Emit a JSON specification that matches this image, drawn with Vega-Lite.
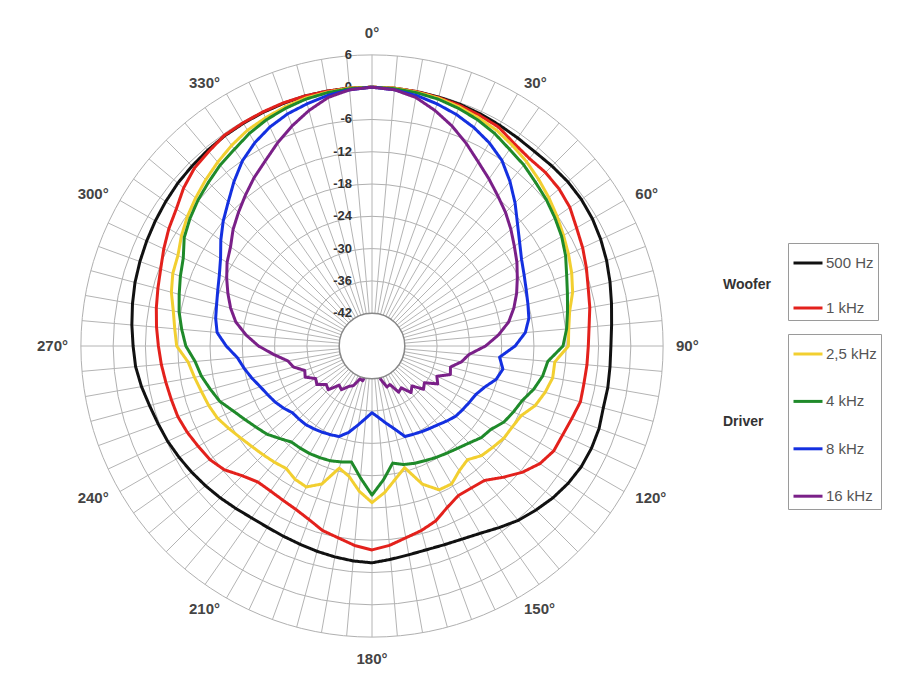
{
"$schema":"https://vega.github.io/schema/vega-lite/v6.json",
"width":650,"height":650,
"autosize":{"type":"none"},
"padding":{"left":47,"top":21,"right":217,"bottom":18},
"background":"white",
"config":{"view":{"stroke":null}},
"datasets":{
"rings":[{"d":-36},{"d":-30},{"d":-24},{"d":-18},{"d":-12},{"d":-6},{"d":0},{"d":6}],
"hole":[{"d":-42}],
"spokes":[{"a":0},{"a":5},{"a":10},{"a":15},{"a":20},{"a":25},{"a":30},{"a":35},{"a":40},{"a":45},{"a":50},{"a":55},{"a":60},{"a":65},{"a":70},{"a":75},{"a":80},{"a":85},{"a":90},{"a":95},{"a":100},{"a":105},{"a":110},{"a":115},{"a":120},{"a":125},{"a":130},{"a":135},{"a":140},{"a":145},{"a":150},{"a":155},{"a":160},{"a":165},{"a":170},{"a":175},{"a":180},{"a":185},{"a":190},{"a":195},{"a":200},{"a":205},{"a":210},{"a":215},{"a":220},{"a":225},{"a":230},{"a":235},{"a":240},{"a":245},{"a":250},{"a":255},{"a":260},{"a":265},{"a":270},{"a":275},{"a":280},{"a":285},{"a":290},{"a":295},{"a":300},{"a":305},{"a":310},{"a":315},{"a":320},{"a":325},{"a":330},{"a":335},{"a":340},{"a":345},{"a":350},{"a":355}],
"dbl":[{"d":6,"t":"6"},{"d":0,"t":"0"},{"d":-6,"t":"-6"},{"d":-12,"t":"-12"},{"d":-18,"t":"-18"},{"d":-24,"t":"-24"},{"d":-30,"t":"-30"},{"d":-36,"t":"-36"},{"d":-42,"t":"-42"}],
"ang":[{"a":0,"t":"0°"},{"a":30,"t":"30°"},{"a":60,"t":"60°"},{"a":90,"t":"90°"},{"a":120,"t":"120°"},{"a":150,"t":"150°"},{"a":180,"t":"180°"},{"a":210,"t":"210°"},{"a":240,"t":"240°"},{"a":270,"t":"270°"},{"a":300,"t":"300°"},{"a":330,"t":"330°"}],
"curves":[
{"f":"500 Hz","g":"Woofer","a":0,"d":0},{"f":"500 Hz","g":"Woofer","a":5,"d":0},{"f":"500 Hz","g":"Woofer","a":10,"d":-0.1},{"f":"500 Hz","g":"Woofer","a":15,"d":-0.2},{"f":"500 Hz","g":"Woofer","a":20,"d":-0.3},{"f":"500 Hz","g":"Woofer","a":25,"d":-0.5},{"f":"500 Hz","g":"Woofer","a":30,"d":-0.7},{"f":"500 Hz","g":"Woofer","a":35,"d":-0.9},{"f":"500 Hz","g":"Woofer","a":40,"d":-1.0},{"f":"500 Hz","g":"Woofer","a":45,"d":-0.8},{"f":"500 Hz","g":"Woofer","a":50,"d":-0.6},{"f":"500 Hz","g":"Woofer","a":55,"d":-0.6},{"f":"500 Hz","g":"Woofer","a":60,"d":-0.8},{"f":"500 Hz","g":"Woofer","a":65,"d":-1.2},{"f":"500 Hz","g":"Woofer","a":70,"d":-1.7},{"f":"500 Hz","g":"Woofer","a":75,"d":-2.3},{"f":"500 Hz","g":"Woofer","a":80,"d":-2.9},{"f":"500 Hz","g":"Woofer","a":85,"d":-3.4},{"f":"500 Hz","g":"Woofer","a":90,"d":-3.7},{"f":"500 Hz","g":"Woofer","a":95,"d":-3.7},{"f":"500 Hz","g":"Woofer","a":100,"d":-3.6},{"f":"500 Hz","g":"Woofer","a":105,"d":-3.6},{"f":"500 Hz","g":"Woofer","a":110,"d":-3.2},{"f":"500 Hz","g":"Woofer","a":115,"d":-3.1},{"f":"500 Hz","g":"Woofer","a":120,"d":-3.2},{"f":"500 Hz","g":"Woofer","a":125,"d":-3.6},{"f":"500 Hz","g":"Woofer","a":130,"d":-4.2},{"f":"500 Hz","g":"Woofer","a":135,"d":-5.0},{"f":"500 Hz","g":"Woofer","a":140,"d":-5.8},{"f":"500 Hz","g":"Woofer","a":145,"d":-6.9},{"f":"500 Hz","g":"Woofer","a":150,"d":-7.9},{"f":"500 Hz","g":"Woofer","a":155,"d":-8.5},{"f":"500 Hz","g":"Woofer","a":160,"d":-8.8},{"f":"500 Hz","g":"Woofer","a":165,"d":-8.9},{"f":"500 Hz","g":"Woofer","a":170,"d":-8.7},{"f":"500 Hz","g":"Woofer","a":175,"d":-8.3},{"f":"500 Hz","g":"Woofer","a":180,"d":-7.8},{"f":"500 Hz","g":"Woofer","a":185,"d":-8.0},{"f":"500 Hz","g":"Woofer","a":190,"d":-8.3},{"f":"500 Hz","g":"Woofer","a":195,"d":-8.6},{"f":"500 Hz","g":"Woofer","a":200,"d":-8.9},{"f":"500 Hz","g":"Woofer","a":205,"d":-9.1},{"f":"500 Hz","g":"Woofer","a":210,"d":-9.2},{"f":"500 Hz","g":"Woofer","a":215,"d":-9.1},{"f":"500 Hz","g":"Woofer","a":220,"d":-8.7},{"f":"500 Hz","g":"Woofer","a":225,"d":-8.2},{"f":"500 Hz","g":"Woofer","a":230,"d":-7.7},{"f":"500 Hz","g":"Woofer","a":235,"d":-7.2},{"f":"500 Hz","g":"Woofer","a":240,"d":-6.7},{"f":"500 Hz","g":"Woofer","a":245,"d":-6.2},{"f":"500 Hz","g":"Woofer","a":250,"d":-5.8},{"f":"500 Hz","g":"Woofer","a":255,"d":-5.3},{"f":"500 Hz","g":"Woofer","a":260,"d":-4.6},{"f":"500 Hz","g":"Woofer","a":265,"d":-4.0},{"f":"500 Hz","g":"Woofer","a":270,"d":-3.7},{"f":"500 Hz","g":"Woofer","a":275,"d":-3.3},{"f":"500 Hz","g":"Woofer","a":280,"d":-2.9},{"f":"500 Hz","g":"Woofer","a":285,"d":-2.5},{"f":"500 Hz","g":"Woofer","a":290,"d":-2.2},{"f":"500 Hz","g":"Woofer","a":295,"d":-1.9},{"f":"500 Hz","g":"Woofer","a":300,"d":-1.6},{"f":"500 Hz","g":"Woofer","a":305,"d":-1.3},{"f":"500 Hz","g":"Woofer","a":310,"d":-1.0},{"f":"500 Hz","g":"Woofer","a":315,"d":-0.8},{"f":"500 Hz","g":"Woofer","a":320,"d":-0.6},{"f":"500 Hz","g":"Woofer","a":325,"d":-0.4},{"f":"500 Hz","g":"Woofer","a":330,"d":-0.3},{"f":"500 Hz","g":"Woofer","a":335,"d":-0.2},{"f":"500 Hz","g":"Woofer","a":340,"d":-0.1},{"f":"500 Hz","g":"Woofer","a":345,"d":0},{"f":"500 Hz","g":"Woofer","a":350,"d":0},{"f":"500 Hz","g":"Woofer","a":355,"d":0},{"f":"500 Hz","g":"Woofer","a":360,"d":0},
{"f":"1 kHz","g":"Woofer","a":0,"d":0},{"f":"1 kHz","g":"Woofer","a":5,"d":0},{"f":"1 kHz","g":"Woofer","a":10,"d":-0.1},{"f":"1 kHz","g":"Woofer","a":15,"d":-0.3},{"f":"1 kHz","g":"Woofer","a":20,"d":-0.5},{"f":"1 kHz","g":"Woofer","a":25,"d":-0.8},{"f":"1 kHz","g":"Woofer","a":30,"d":-1.1},{"f":"1 kHz","g":"Woofer","a":35,"d":-2.1},{"f":"1 kHz","g":"Woofer","a":40,"d":-2.6},{"f":"1 kHz","g":"Woofer","a":45,"d":-2.5},{"f":"1 kHz","g":"Woofer","a":50,"d":-2.7},{"f":"1 kHz","g":"Woofer","a":55,"d":-3.2},{"f":"1 kHz","g":"Woofer","a":60,"d":-4.2},{"f":"1 kHz","g":"Woofer","a":65,"d":-4.9},{"f":"1 kHz","g":"Woofer","a":70,"d":-5.7},{"f":"1 kHz","g":"Woofer","a":75,"d":-6.5},{"f":"1 kHz","g":"Woofer","a":80,"d":-7.0},{"f":"1 kHz","g":"Woofer","a":85,"d":-7.6},{"f":"1 kHz","g":"Woofer","a":90,"d":-7.9},{"f":"1 kHz","g":"Woofer","a":95,"d":-8.0},{"f":"1 kHz","g":"Woofer","a":100,"d":-8.1},{"f":"1 kHz","g":"Woofer","a":105,"d":-8.0},{"f":"1 kHz","g":"Woofer","a":110,"d":-8.6},{"f":"1 kHz","g":"Woofer","a":115,"d":-9.0},{"f":"1 kHz","g":"Woofer","a":120,"d":-9.1},{"f":"1 kHz","g":"Woofer","a":125,"d":-10.0},{"f":"1 kHz","g":"Woofer","a":130,"d":-11.6},{"f":"1 kHz","g":"Woofer","a":135,"d":-13.6},{"f":"1 kHz","g":"Woofer","a":140,"d":-15.5},{"f":"1 kHz","g":"Woofer","a":145,"d":-15.9},{"f":"1 kHz","g":"Woofer","a":150,"d":-16.0},{"f":"1 kHz","g":"Woofer","a":155,"d":-15.0},{"f":"1 kHz","g":"Woofer","a":160,"d":-13.5},{"f":"1 kHz","g":"Woofer","a":165,"d":-12.6},{"f":"1 kHz","g":"Woofer","a":170,"d":-11.9},{"f":"1 kHz","g":"Woofer","a":175,"d":-10.9},{"f":"1 kHz","g":"Woofer","a":180,"d":-10.2},{"f":"1 kHz","g":"Woofer","a":185,"d":-10.9},{"f":"1 kHz","g":"Woofer","a":190,"d":-11.9},{"f":"1 kHz","g":"Woofer","a":195,"d":-12.6},{"f":"1 kHz","g":"Woofer","a":200,"d":-13.8},{"f":"1 kHz","g":"Woofer","a":205,"d":-14.6},{"f":"1 kHz","g":"Woofer","a":210,"d":-15.0},{"f":"1 kHz","g":"Woofer","a":215,"d":-15.2},{"f":"1 kHz","g":"Woofer","a":220,"d":-15.1},{"f":"1 kHz","g":"Woofer","a":225,"d":-14.0},{"f":"1 kHz","g":"Woofer","a":230,"d":-12.3},{"f":"1 kHz","g":"Woofer","a":235,"d":-11.3},{"f":"1 kHz","g":"Woofer","a":240,"d":-10.8},{"f":"1 kHz","g":"Woofer","a":245,"d":-10.2},{"f":"1 kHz","g":"Woofer","a":250,"d":-9.7},{"f":"1 kHz","g":"Woofer","a":255,"d":-9.5},{"f":"1 kHz","g":"Woofer","a":260,"d":-9.2},{"f":"1 kHz","g":"Woofer","a":265,"d":-8.8},{"f":"1 kHz","g":"Woofer","a":270,"d":-8.4},{"f":"1 kHz","g":"Woofer","a":275,"d":-7.9},{"f":"1 kHz","g":"Woofer","a":280,"d":-7.4},{"f":"1 kHz","g":"Woofer","a":285,"d":-6.9},{"f":"1 kHz","g":"Woofer","a":290,"d":-6.3},{"f":"1 kHz","g":"Woofer","a":295,"d":-5.4},{"f":"1 kHz","g":"Woofer","a":300,"d":-4.5},{"f":"1 kHz","g":"Woofer","a":305,"d":-3.7},{"f":"1 kHz","g":"Woofer","a":310,"d":-2.4},{"f":"1 kHz","g":"Woofer","a":315,"d":-1.4},{"f":"1 kHz","g":"Woofer","a":320,"d":-0.9},{"f":"1 kHz","g":"Woofer","a":325,"d":-0.3},{"f":"1 kHz","g":"Woofer","a":330,"d":-0.2},{"f":"1 kHz","g":"Woofer","a":335,"d":-0.1},{"f":"1 kHz","g":"Woofer","a":340,"d":0},{"f":"1 kHz","g":"Woofer","a":345,"d":0},{"f":"1 kHz","g":"Woofer","a":350,"d":0},{"f":"1 kHz","g":"Woofer","a":355,"d":0},{"f":"1 kHz","g":"Woofer","a":360,"d":0},
{"f":"2,5 kHz","g":"Driver","a":0,"d":0},{"f":"2,5 kHz","g":"Driver","a":5,"d":0},{"f":"2,5 kHz","g":"Driver","a":10,"d":-0.2},{"f":"2,5 kHz","g":"Driver","a":15,"d":-0.4},{"f":"2,5 kHz","g":"Driver","a":20,"d":-0.8},{"f":"2,5 kHz","g":"Driver","a":25,"d":-1.3},{"f":"2,5 kHz","g":"Driver","a":30,"d":-1.8},{"f":"2,5 kHz","g":"Driver","a":35,"d":-2.6},{"f":"2,5 kHz","g":"Driver","a":40,"d":-3.4},{"f":"2,5 kHz","g":"Driver","a":45,"d":-4.3},{"f":"2,5 kHz","g":"Driver","a":50,"d":-5.2},{"f":"2,5 kHz","g":"Driver","a":55,"d":-6.1},{"f":"2,5 kHz","g":"Driver","a":60,"d":-7.0},{"f":"2,5 kHz","g":"Driver","a":65,"d":-7.8},{"f":"2,5 kHz","g":"Driver","a":70,"d":-8.6},{"f":"2,5 kHz","g":"Driver","a":75,"d":-9.5},{"f":"2,5 kHz","g":"Driver","a":80,"d":-10.8},{"f":"2,5 kHz","g":"Driver","a":85,"d":-11.4},{"f":"2,5 kHz","g":"Driver","a":90,"d":-11.6},{"f":"2,5 kHz","g":"Driver","a":95,"d":-14.0},{"f":"2,5 kHz","g":"Driver","a":100,"d":-14.0},{"f":"2,5 kHz","g":"Driver","a":105,"d":-14.8},{"f":"2,5 kHz","g":"Driver","a":110,"d":-15.8},{"f":"2,5 kHz","g":"Driver","a":115,"d":-17.5},{"f":"2,5 kHz","g":"Driver","a":120,"d":-18.0},{"f":"2,5 kHz","g":"Driver","a":125,"d":-18.2},{"f":"2,5 kHz","g":"Driver","a":130,"d":-18.8},{"f":"2,5 kHz","g":"Driver","a":135,"d":-19.3},{"f":"2,5 kHz","g":"Driver","a":140,"d":-20.5},{"f":"2,5 kHz","g":"Driver","a":145,"d":-19.8},{"f":"2,5 kHz","g":"Driver","a":150,"d":-18.5},{"f":"2,5 kHz","g":"Driver","a":155,"d":-18.6},{"f":"2,5 kHz","g":"Driver","a":160,"d":-20.8},{"f":"2,5 kHz","g":"Driver","a":165,"d":-24.7},{"f":"2,5 kHz","g":"Driver","a":170,"d":-23.0},{"f":"2,5 kHz","g":"Driver","a":175,"d":-20.8},{"f":"2,5 kHz","g":"Driver","a":180,"d":-19.0},{"f":"2,5 kHz","g":"Driver","a":185,"d":-21.0},{"f":"2,5 kHz","g":"Driver","a":190,"d":-23.5},{"f":"2,5 kHz","g":"Driver","a":195,"d":-24.6},{"f":"2,5 kHz","g":"Driver","a":200,"d":-20.8},{"f":"2,5 kHz","g":"Driver","a":205,"d":-19.2},{"f":"2,5 kHz","g":"Driver","a":210,"d":-19.5},{"f":"2,5 kHz","g":"Driver","a":215,"d":-20.3},{"f":"2,5 kHz","g":"Driver","a":220,"d":-19.9},{"f":"2,5 kHz","g":"Driver","a":225,"d":-19.5},{"f":"2,5 kHz","g":"Driver","a":230,"d":-19.0},{"f":"2,5 kHz","g":"Driver","a":235,"d":-18.3},{"f":"2,5 kHz","g":"Driver","a":240,"d":-17.4},{"f":"2,5 kHz","g":"Driver","a":245,"d":-16.4},{"f":"2,5 kHz","g":"Driver","a":250,"d":-15.8},{"f":"2,5 kHz","g":"Driver","a":255,"d":-15.3},{"f":"2,5 kHz","g":"Driver","a":260,"d":-14.6},{"f":"2,5 kHz","g":"Driver","a":265,"d":-13.8},{"f":"2,5 kHz","g":"Driver","a":270,"d":-11.8},{"f":"2,5 kHz","g":"Driver","a":275,"d":-11.3},{"f":"2,5 kHz","g":"Driver","a":280,"d":-10.6},{"f":"2,5 kHz","g":"Driver","a":285,"d":-9.5},{"f":"2,5 kHz","g":"Driver","a":290,"d":-8.7},{"f":"2,5 kHz","g":"Driver","a":295,"d":-8.3},{"f":"2,5 kHz","g":"Driver","a":300,"d":-7.2},{"f":"2,5 kHz","g":"Driver","a":305,"d":-6.2},{"f":"2,5 kHz","g":"Driver","a":310,"d":-5.3},{"f":"2,5 kHz","g":"Driver","a":315,"d":-4.4},{"f":"2,5 kHz","g":"Driver","a":320,"d":-3.5},{"f":"2,5 kHz","g":"Driver","a":325,"d":-2.6},{"f":"2,5 kHz","g":"Driver","a":330,"d":-1.8},{"f":"2,5 kHz","g":"Driver","a":335,"d":-1.3},{"f":"2,5 kHz","g":"Driver","a":340,"d":-0.8},{"f":"2,5 kHz","g":"Driver","a":345,"d":-0.4},{"f":"2,5 kHz","g":"Driver","a":350,"d":-0.2},{"f":"2,5 kHz","g":"Driver","a":355,"d":0},{"f":"2,5 kHz","g":"Driver","a":360,"d":0},
{"f":"4 kHz","g":"Driver","a":0,"d":0},{"f":"4 kHz","g":"Driver","a":5,"d":-0.1},{"f":"4 kHz","g":"Driver","a":10,"d":-0.3},{"f":"4 kHz","g":"Driver","a":15,"d":-0.6},{"f":"4 kHz","g":"Driver","a":20,"d":-1.1},{"f":"4 kHz","g":"Driver","a":25,"d":-1.7},{"f":"4 kHz","g":"Driver","a":30,"d":-2.5},{"f":"4 kHz","g":"Driver","a":35,"d":-3.5},{"f":"4 kHz","g":"Driver","a":40,"d":-4.2},{"f":"4 kHz","g":"Driver","a":45,"d":-5.1},{"f":"4 kHz","g":"Driver","a":50,"d":-5.8},{"f":"4 kHz","g":"Driver","a":55,"d":-6.6},{"f":"4 kHz","g":"Driver","a":60,"d":-7.4},{"f":"4 kHz","g":"Driver","a":65,"d":-8.4},{"f":"4 kHz","g":"Driver","a":70,"d":-9.6},{"f":"4 kHz","g":"Driver","a":75,"d":-10.5},{"f":"4 kHz","g":"Driver","a":80,"d":-11.2},{"f":"4 kHz","g":"Driver","a":85,"d":-11.8},{"f":"4 kHz","g":"Driver","a":90,"d":-12.6},{"f":"4 kHz","g":"Driver","a":95,"d":-15.3},{"f":"4 kHz","g":"Driver","a":100,"d":-15.9},{"f":"4 kHz","g":"Driver","a":105,"d":-17.0},{"f":"4 kHz","g":"Driver","a":110,"d":-18.4},{"f":"4 kHz","g":"Driver","a":115,"d":-19.1},{"f":"4 kHz","g":"Driver","a":120,"d":-19.8},{"f":"4 kHz","g":"Driver","a":125,"d":-21.1},{"f":"4 kHz","g":"Driver","a":130,"d":-21.6},{"f":"4 kHz","g":"Driver","a":135,"d":-22.6},{"f":"4 kHz","g":"Driver","a":140,"d":-23.3},{"f":"4 kHz","g":"Driver","a":145,"d":-23.8},{"f":"4 kHz","g":"Driver","a":150,"d":-24.2},{"f":"4 kHz","g":"Driver","a":155,"d":-24.6},{"f":"4 kHz","g":"Driver","a":160,"d":-24.9},{"f":"4 kHz","g":"Driver","a":165,"d":-25.3},{"f":"4 kHz","g":"Driver","a":170,"d":-26.0},{"f":"4 kHz","g":"Driver","a":175,"d":-23.2},{"f":"4 kHz","g":"Driver","a":180,"d":-20.4},{"f":"4 kHz","g":"Driver","a":185,"d":-23.5},{"f":"4 kHz","g":"Driver","a":190,"d":-26.2},{"f":"4 kHz","g":"Driver","a":195,"d":-25.8},{"f":"4 kHz","g":"Driver","a":200,"d":-25.4},{"f":"4 kHz","g":"Driver","a":205,"d":-25.2},{"f":"4 kHz","g":"Driver","a":210,"d":-25.0},{"f":"4 kHz","g":"Driver","a":215,"d":-24.9},{"f":"4 kHz","g":"Driver","a":220,"d":-24.8},{"f":"4 kHz","g":"Driver","a":225,"d":-23.8},{"f":"4 kHz","g":"Driver","a":230,"d":-22.6},{"f":"4 kHz","g":"Driver","a":235,"d":-21.8},{"f":"4 kHz","g":"Driver","a":240,"d":-20.8},{"f":"4 kHz","g":"Driver","a":245,"d":-19.6},{"f":"4 kHz","g":"Driver","a":250,"d":-18.0},{"f":"4 kHz","g":"Driver","a":255,"d":-17.0},{"f":"4 kHz","g":"Driver","a":260,"d":-15.9},{"f":"4 kHz","g":"Driver","a":265,"d":-15.1},{"f":"4 kHz","g":"Driver","a":270,"d":-13.5},{"f":"4 kHz","g":"Driver","a":275,"d":-12.6},{"f":"4 kHz","g":"Driver","a":280,"d":-11.7},{"f":"4 kHz","g":"Driver","a":285,"d":-11.0},{"f":"4 kHz","g":"Driver","a":290,"d":-10.2},{"f":"4 kHz","g":"Driver","a":295,"d":-9.4},{"f":"4 kHz","g":"Driver","a":300,"d":-7.8},{"f":"4 kHz","g":"Driver","a":305,"d":-6.8},{"f":"4 kHz","g":"Driver","a":310,"d":-5.9},{"f":"4 kHz","g":"Driver","a":315,"d":-5.1},{"f":"4 kHz","g":"Driver","a":320,"d":-4.2},{"f":"4 kHz","g":"Driver","a":325,"d":-3.5},{"f":"4 kHz","g":"Driver","a":330,"d":-2.5},{"f":"4 kHz","g":"Driver","a":335,"d":-1.7},{"f":"4 kHz","g":"Driver","a":340,"d":-1.1},{"f":"4 kHz","g":"Driver","a":345,"d":-0.6},{"f":"4 kHz","g":"Driver","a":350,"d":-0.3},{"f":"4 kHz","g":"Driver","a":355,"d":-0.1},{"f":"4 kHz","g":"Driver","a":360,"d":0},
{"f":"8 kHz","g":"Driver","a":0,"d":0},{"f":"8 kHz","g":"Driver","a":5,"d":-0.3},{"f":"8 kHz","g":"Driver","a":10,"d":-0.8},{"f":"8 kHz","g":"Driver","a":15,"d":-1.5},{"f":"8 kHz","g":"Driver","a":20,"d":-2.3},{"f":"8 kHz","g":"Driver","a":25,"d":-3.3},{"f":"8 kHz","g":"Driver","a":30,"d":-4.5},{"f":"8 kHz","g":"Driver","a":35,"d":-6.0},{"f":"8 kHz","g":"Driver","a":40,"d":-8.2},{"f":"8 kHz","g":"Driver","a":45,"d":-10.5},{"f":"8 kHz","g":"Driver","a":50,"d":-12.8},{"f":"8 kHz","g":"Driver","a":55,"d":-14.6},{"f":"8 kHz","g":"Driver","a":60,"d":-16.0},{"f":"8 kHz","g":"Driver","a":65,"d":-16.9},{"f":"8 kHz","g":"Driver","a":70,"d":-17.6},{"f":"8 kHz","g":"Driver","a":75,"d":-18.1},{"f":"8 kHz","g":"Driver","a":80,"d":-18.5},{"f":"8 kHz","g":"Driver","a":85,"d":-19.5},{"f":"8 kHz","g":"Driver","a":90,"d":-21.5},{"f":"8 kHz","g":"Driver","a":95,"d":-24.3},{"f":"8 kHz","g":"Driver","a":100,"d":-23.4},{"f":"8 kHz","g":"Driver","a":105,"d":-24.2},{"f":"8 kHz","g":"Driver","a":110,"d":-25.8},{"f":"8 kHz","g":"Driver","a":115,"d":-26.8},{"f":"8 kHz","g":"Driver","a":120,"d":-27.2},{"f":"8 kHz","g":"Driver","a":125,"d":-27.5},{"f":"8 kHz","g":"Driver","a":130,"d":-27.8},{"f":"8 kHz","g":"Driver","a":135,"d":-28.4},{"f":"8 kHz","g":"Driver","a":140,"d":-29.0},{"f":"8 kHz","g":"Driver","a":145,"d":-29.4},{"f":"8 kHz","g":"Driver","a":150,"d":-29.7},{"f":"8 kHz","g":"Driver","a":155,"d":-30.0},{"f":"8 kHz","g":"Driver","a":160,"d":-30.2},{"f":"8 kHz","g":"Driver","a":165,"d":-32.2},{"f":"8 kHz","g":"Driver","a":170,"d":-33.6},{"f":"8 kHz","g":"Driver","a":175,"d":-34.8},{"f":"8 kHz","g":"Driver","a":180,"d":-35.7},{"f":"8 kHz","g":"Driver","a":185,"d":-34.6},{"f":"8 kHz","g":"Driver","a":190,"d":-33.2},{"f":"8 kHz","g":"Driver","a":195,"d":-31.5},{"f":"8 kHz","g":"Driver","a":200,"d":-30.2},{"f":"8 kHz","g":"Driver","a":205,"d":-29.9},{"f":"8 kHz","g":"Driver","a":210,"d":-29.6},{"f":"8 kHz","g":"Driver","a":215,"d":-29.3},{"f":"8 kHz","g":"Driver","a":220,"d":-29.0},{"f":"8 kHz","g":"Driver","a":225,"d":-28.9},{"f":"8 kHz","g":"Driver","a":230,"d":-28.8},{"f":"8 kHz","g":"Driver","a":235,"d":-28.0},{"f":"8 kHz","g":"Driver","a":240,"d":-27.3},{"f":"8 kHz","g":"Driver","a":245,"d":-26.7},{"f":"8 kHz","g":"Driver","a":250,"d":-26.0},{"f":"8 kHz","g":"Driver","a":255,"d":-25.0},{"f":"8 kHz","g":"Driver","a":260,"d":-24.0},{"f":"8 kHz","g":"Driver","a":265,"d":-23.0},{"f":"8 kHz","g":"Driver","a":270,"d":-21.0},{"f":"8 kHz","g":"Driver","a":275,"d":-19.2},{"f":"8 kHz","g":"Driver","a":280,"d":-18.6},{"f":"8 kHz","g":"Driver","a":285,"d":-18.2},{"f":"8 kHz","g":"Driver","a":290,"d":-17.6},{"f":"8 kHz","g":"Driver","a":295,"d":-16.8},{"f":"8 kHz","g":"Driver","a":300,"d":-15.6},{"f":"8 kHz","g":"Driver","a":305,"d":-13.8},{"f":"8 kHz","g":"Driver","a":310,"d":-12.0},{"f":"8 kHz","g":"Driver","a":315,"d":-10.3},{"f":"8 kHz","g":"Driver","a":320,"d":-8.2},{"f":"8 kHz","g":"Driver","a":325,"d":-6.1},{"f":"8 kHz","g":"Driver","a":330,"d":-4.5},{"f":"8 kHz","g":"Driver","a":335,"d":-3.2},{"f":"8 kHz","g":"Driver","a":340,"d":-2.2},{"f":"8 kHz","g":"Driver","a":345,"d":-1.5},{"f":"8 kHz","g":"Driver","a":350,"d":-0.8},{"f":"8 kHz","g":"Driver","a":355,"d":-0.3},{"f":"8 kHz","g":"Driver","a":360,"d":0},
{"f":"16 kHz","g":"Driver","a":0,"d":0},{"f":"16 kHz","g":"Driver","a":5,"d":-0.3},{"f":"16 kHz","g":"Driver","a":10,"d":-1.2},{"f":"16 kHz","g":"Driver","a":15,"d":-2.8},{"f":"16 kHz","g":"Driver","a":20,"d":-4.6},{"f":"16 kHz","g":"Driver","a":25,"d":-6.6},{"f":"16 kHz","g":"Driver","a":30,"d":-8.6},{"f":"16 kHz","g":"Driver","a":35,"d":-10.2},{"f":"16 kHz","g":"Driver","a":40,"d":-11.7},{"f":"16 kHz","g":"Driver","a":45,"d":-13.0},{"f":"16 kHz","g":"Driver","a":50,"d":-14.4},{"f":"16 kHz","g":"Driver","a":55,"d":-15.8},{"f":"16 kHz","g":"Driver","a":60,"d":-17.0},{"f":"16 kHz","g":"Driver","a":65,"d":-18.3},{"f":"16 kHz","g":"Driver","a":70,"d":-19.5},{"f":"16 kHz","g":"Driver","a":75,"d":-20.8},{"f":"16 kHz","g":"Driver","a":80,"d":-22.3},{"f":"16 kHz","g":"Driver","a":85,"d":-24.5},{"f":"16 kHz","g":"Driver","a":90,"d":-27.0},{"f":"16 kHz","g":"Driver","a":95,"d":-30.0},{"f":"16 kHz","g":"Driver","a":100,"d":-31.2},{"f":"16 kHz","g":"Driver","a":105,"d":-33.0},{"f":"16 kHz","g":"Driver","a":110,"d":-32.6},{"f":"16 kHz","g":"Driver","a":115,"d":-34.8},{"f":"16 kHz","g":"Driver","a":120,"d":-34.0},{"f":"16 kHz","g":"Driver","a":125,"d":-36.2},{"f":"16 kHz","g":"Driver","a":130,"d":-35.6},{"f":"16 kHz","g":"Driver","a":135,"d":-37.6},{"f":"16 kHz","g":"Driver","a":140,"d":-36.8},{"f":"16 kHz","g":"Driver","a":145,"d":-38.6},{"f":"16 kHz","g":"Driver","a":150,"d":-38.2},{"f":"16 kHz","g":"Driver","a":155,"d":-40.2},{"f":"16 kHz","g":"Driver","a":160,"d":-40.0},{"f":"16 kHz","g":"Driver","a":165,"d":-41.6},{"f":"16 kHz","g":"Driver","a":170,"d":-43.0},{"f":"16 kHz","g":"Driver","a":175,"d":-45.0},{"f":"16 kHz","g":"Driver","a":180,"d":-46.0},{"f":"16 kHz","g":"Driver","a":185,"d":-45.0},{"f":"16 kHz","g":"Driver","a":190,"d":-43.0},{"f":"16 kHz","g":"Driver","a":195,"d":-41.4},{"f":"16 kHz","g":"Driver","a":200,"d":-41.6},{"f":"16 kHz","g":"Driver","a":205,"d":-40.0},{"f":"16 kHz","g":"Driver","a":210,"d":-39.4},{"f":"16 kHz","g":"Driver","a":215,"d":-38.2},{"f":"16 kHz","g":"Driver","a":220,"d":-38.6},{"f":"16 kHz","g":"Driver","a":225,"d":-36.6},{"f":"16 kHz","g":"Driver","a":230,"d":-37.0},{"f":"16 kHz","g":"Driver","a":235,"d":-35.6},{"f":"16 kHz","g":"Driver","a":240,"d":-36.0},{"f":"16 kHz","g":"Driver","a":245,"d":-34.4},{"f":"16 kHz","g":"Driver","a":250,"d":-34.8},{"f":"16 kHz","g":"Driver","a":255,"d":-33.0},{"f":"16 kHz","g":"Driver","a":260,"d":-32.2},{"f":"16 kHz","g":"Driver","a":265,"d":-29.8},{"f":"16 kHz","g":"Driver","a":270,"d":-27.0},{"f":"16 kHz","g":"Driver","a":275,"d":-24.6},{"f":"16 kHz","g":"Driver","a":280,"d":-22.4},{"f":"16 kHz","g":"Driver","a":285,"d":-20.9},{"f":"16 kHz","g":"Driver","a":290,"d":-19.6},{"f":"16 kHz","g":"Driver","a":295,"d":-18.3},{"f":"16 kHz","g":"Driver","a":300,"d":-17.0},{"f":"16 kHz","g":"Driver","a":305,"d":-16.0},{"f":"16 kHz","g":"Driver","a":310,"d":-14.4},{"f":"16 kHz","g":"Driver","a":315,"d":-13.0},{"f":"16 kHz","g":"Driver","a":320,"d":-11.5},{"f":"16 kHz","g":"Driver","a":325,"d":-9.9},{"f":"16 kHz","g":"Driver","a":330,"d":-8.4},{"f":"16 kHz","g":"Driver","a":335,"d":-6.5},{"f":"16 kHz","g":"Driver","a":340,"d":-4.6},{"f":"16 kHz","g":"Driver","a":345,"d":-2.8},{"f":"16 kHz","g":"Driver","a":350,"d":-1.2},{"f":"16 kHz","g":"Driver","a":355,"d":-0.3},{"f":"16 kHz","g":"Driver","a":360,"d":0}
]},
"layer":[
{"data":{"name":"rings"},"transform":[{"calculate":"datum.d + 48.1","as":"r"}],
 "mark":{"type":"arc","theta":0,"theta2":6.2832,"filled":false,"stroke":"#b0b0b0","strokeWidth":1},
 "encoding":{"radius":{"field":"r","type":"quantitative","stack":null,"scale":{"type":"linear","domain":[0,60.4],"range":[0,325],"zero":true}}}},
{"data":{"name":"spokes"},"transform":[
  {"calculate":"6.1*sin(datum.a*PI/180)","as":"x1"},{"calculate":"6.1*cos(datum.a*PI/180)","as":"y1"},
  {"calculate":"54.1*sin(datum.a*PI/180)","as":"x2"},{"calculate":"54.1*cos(datum.a*PI/180)","as":"y2"}],
 "mark":{"type":"rule","color":"#b4b4b4","strokeWidth":1},
 "encoding":{"x":{"field":"x1","type":"quantitative","scale":{"domain":[-60.4,60.4],"nice":false,"zero":false},"axis":null},
  "y":{"field":"y1","type":"quantitative","scale":{"domain":[-60.4,60.4],"nice":false,"zero":false},"axis":null},
  "x2":{"field":"x2"},"y2":{"field":"y2"}}},
{"data":{"name":"dbl"},"transform":[{"calculate":"datum.d + 48.1","as":"y"}],
 "mark":{"type":"text","align":"right","baseline":"middle","dx":-20,"font":"Liberation Sans","fontSize":13,"fontWeight":"bold","color":"#333333"},
 "encoding":{"x":{"datum":0,"type":"quantitative","scale":{"domain":[-60.4,60.4],"nice":false,"zero":false},"axis":null},
  "y":{"field":"y","type":"quantitative","scale":{"domain":[-60.4,60.4],"nice":false,"zero":false},"axis":null},
  "text":{"field":"t"}}},
{"data":{"name":"curves"},"transform":[{"filter":{"field":"g","equal":"Woofer"}},
  {"calculate":"(datum.d + 48.1)*sin(datum.a*PI/180)","as":"x"},{"calculate":"(datum.d + 48.1)*cos(datum.a*PI/180)","as":"y"}],
 "mark":{"type":"line","strokeWidth":3,"strokeJoin":"round"},
 "encoding":{"x":{"field":"x","type":"quantitative","scale":{"domain":[-60.4,60.4],"nice":false,"zero":false},"axis":null},
  "y":{"field":"y","type":"quantitative","scale":{"domain":[-60.4,60.4],"nice":false,"zero":false},"axis":null},
  "order":{"field":"a","type":"quantitative"},
  "stroke":{"field":"f","type":"nominal","scale":{"domain":["500 Hz","1 kHz"],"range":["#111111","#e3211c"]},
   "legend":{"title":null,"orient":"none","legendX":741,"legendY":222,"symbolType":"stroke","symbolSize":841,"symbolStrokeWidth":3,"rowPadding":21,"padding":4,"labelOffset":2,"labelFont":"Liberation Sans","labelFontSize":15,"labelColor":"#555555","strokeColor":"#9a9a9a","labelExpr":"datum.label + '  '"}},
  "strokeDash":{"field":"g","type":"nominal","scale":{"domain":["Woofer","Driver"],"range":[[1,0],[1,0]]},
   "legend":{"title":null,"orient":"none","legendX":662,"legendY":257,"symbolOpacity":0,"symbolSize":1,"labelOffset":0,"rowPadding":123,"padding":0,"labelFont":"Liberation Sans","labelFontSize":14,"labelFontWeight":"bold","labelColor":"#333333"}}}},
{"data":{"name":"curves"},"transform":[{"filter":{"field":"g","equal":"Driver"}},
  {"calculate":"(datum.d + 48.1)*sin(datum.a*PI/180)","as":"x"},{"calculate":"(datum.d + 48.1)*cos(datum.a*PI/180)","as":"y"}],
 "mark":{"type":"line","strokeWidth":3,"strokeJoin":"round"},
 "encoding":{"x":{"field":"x","type":"quantitative","scale":{"domain":[-60.4,60.4],"nice":false,"zero":false},"axis":null},
  "y":{"field":"y","type":"quantitative","scale":{"domain":[-60.4,60.4],"nice":false,"zero":false},"axis":null},
  "order":{"field":"a","type":"quantitative"},
  "color":{"field":"f","type":"nominal","scale":{"domain":["2,5 kHz","4 kHz","8 kHz","16 kHz"],"range":["#f2cf30","#1f8a2a","#1430e0","#7a2088"]},
   "legend":{"title":null,"orient":"none","legendX":741,"legendY":313,"symbolType":"stroke","symbolSize":841,"symbolStrokeWidth":3,"rowPadding":23.4,"padding":4,"labelOffset":2,"labelFont":"Liberation Sans","labelFontSize":15,"labelColor":"#555555","strokeColor":"#9a9a9a"}},
  "strokeDash":{"field":"g","type":"nominal","scale":{"domain":["Woofer","Driver"],"range":[[1,0],[1,0]]}}}},
{"data":{"name":"hole"},"transform":[{"calculate":"datum.d + 48.1","as":"r"}],
 "mark":{"type":"arc","theta":0,"theta2":6.2832,"fill":"white","stroke":"#888888","strokeWidth":1.5},
 "encoding":{"radius":{"field":"r","type":"quantitative","stack":null,"scale":{"type":"linear","domain":[0,60.4],"range":[0,325],"zero":true}}}},
{"data":{"name":"ang"},"transform":[{"filter":"datum.a > 0 && datum.a < 180"},
  {"calculate":"56.5*sin(datum.a*PI/180)","as":"x"},{"calculate":"56.5*cos(datum.a*PI/180)","as":"y"}],
 "mark":{"type":"text","align":"left","baseline":"middle","font":"Liberation Sans","fontSize":15,"fontWeight":"bold","color":"#444444"},
 "encoding":{"x":{"field":"x","type":"quantitative","scale":{"domain":[-60.4,60.4],"nice":false,"zero":false},"axis":null},
  "y":{"field":"y","type":"quantitative","scale":{"domain":[-60.4,60.4],"nice":false,"zero":false},"axis":null},"text":{"field":"t"}}},
{"data":{"name":"ang"},"transform":[{"filter":"datum.a > 180"},
  {"calculate":"56.5*sin(datum.a*PI/180)","as":"x"},{"calculate":"56.5*cos(datum.a*PI/180)","as":"y"}],
 "mark":{"type":"text","align":"right","baseline":"middle","font":"Liberation Sans","fontSize":15,"fontWeight":"bold","color":"#444444"},
 "encoding":{"x":{"field":"x","type":"quantitative","scale":{"domain":[-60.4,60.4],"nice":false,"zero":false},"axis":null},
  "y":{"field":"y","type":"quantitative","scale":{"domain":[-60.4,60.4],"nice":false,"zero":false},"axis":null},"text":{"field":"t"}}},
{"data":{"name":"ang"},"transform":[{"filter":"datum.a == 0"},
  {"calculate":"57.2*sin(datum.a*PI/180)","as":"x"},{"calculate":"57.2*cos(datum.a*PI/180)","as":"y"}],
 "mark":{"type":"text","align":"center","baseline":"alphabetic","font":"Liberation Sans","fontSize":15,"fontWeight":"bold","color":"#444444"},
 "encoding":{"x":{"field":"x","type":"quantitative","scale":{"domain":[-60.4,60.4],"nice":false,"zero":false},"axis":null},
  "y":{"field":"y","type":"quantitative","scale":{"domain":[-60.4,60.4],"nice":false,"zero":false},"axis":null},"text":{"field":"t"}}},
{"data":{"name":"ang"},"transform":[{"filter":"datum.a == 180"},
  {"calculate":"56.9*sin(datum.a*PI/180)","as":"x"},{"calculate":"56.9*cos(datum.a*PI/180)","as":"y"}],
 "mark":{"type":"text","align":"center","baseline":"top","font":"Liberation Sans","fontSize":15,"fontWeight":"bold","color":"#444444"},
 "encoding":{"x":{"field":"x","type":"quantitative","scale":{"domain":[-60.4,60.4],"nice":false,"zero":false},"axis":null},
  "y":{"field":"y","type":"quantitative","scale":{"domain":[-60.4,60.4],"nice":false,"zero":false},"axis":null},"text":{"field":"t"}}}
]
}
